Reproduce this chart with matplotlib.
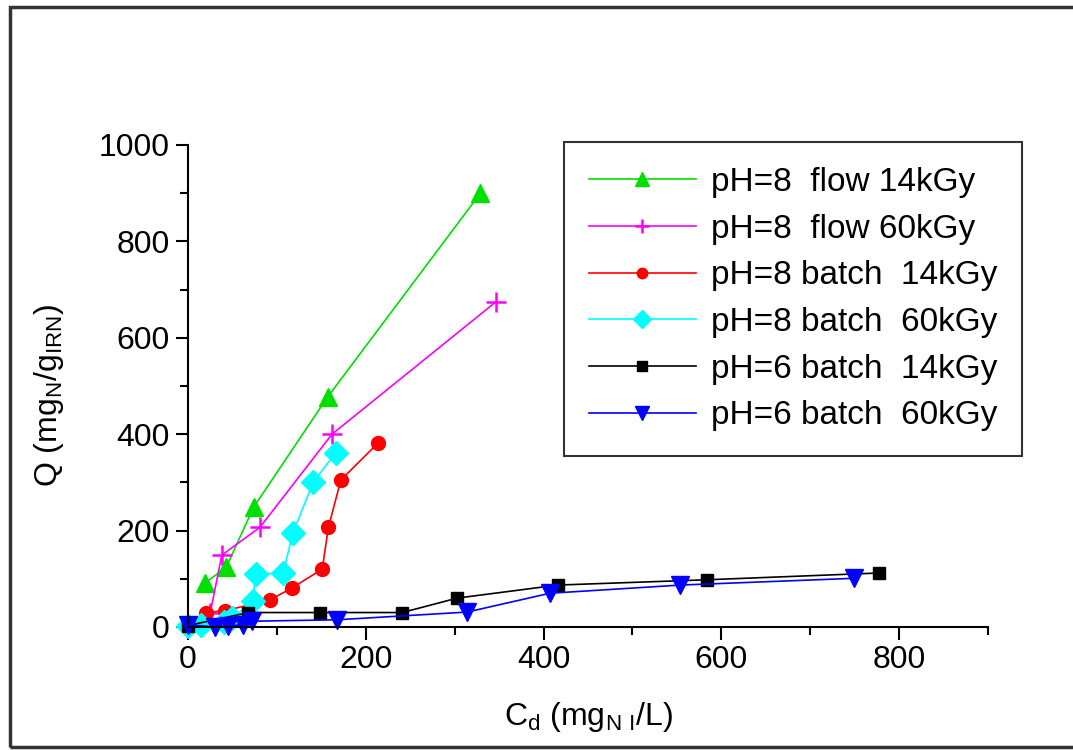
import matplotlib
matplotlib.use('Agg')
import matplotlib.pyplot as plt
from matplotlib.patches import Rectangle

plt.rcParams['font.family'] = ['Liberation Sans', 'DejaVu Sans']
plt.rcParams['mathtext.default'] = 'regular'

# flow, pH=8
flow14_x = [19, 43, 74, 157, 329]
flow14_y = [91, 124, 249, 477, 900]
flow60_x = [25, 38, 81, 162, 346]
flow60_y = [29, 149, 207, 400, 674]

# batch, pH=8
b8_14_x = [2, 20, 42, 92, 117, 151, 158, 172, 214]
b8_14_y = [3, 30, 34, 56, 81, 120, 207, 305, 382]
b8_60_x = [0, 15, 40, 50, 73, 76, 107, 118, 141, 166]
b8_60_y = [3, 5, 10, 18, 54, 110, 112, 195, 301, 361]

# batch, pH=6
b6_14_x = [0, 68, 149, 241, 303, 416, 584, 777]
b6_14_y = [3, 30, 30, 30, 60, 87, 98, 112]
b6_60_x = [0, 30, 45, 62, 72, 168, 314, 407, 554, 749]
b6_60_y = [5, 0, 2, 5, 12, 15, 31, 70, 87, 101]

fig = plt.figure(figsize=(10.73, 7.5), dpi=100)
ax = fig.add_axes([0.1752, 0.164, 0.7456, 0.6427])

ax.plot(flow14_x, flow14_y, color='#00e000', marker='^', ms=13, lw=1.2, label='pH=8  flow 14kGy')
ax.plot(flow60_x, flow60_y, color='#ff00ff', marker='+', ms=14, mew=1.8, lw=1.2, label='pH=8  flow 60kGy')
ax.plot(b8_14_x, b8_14_y, color='#ff0000', marker='o', ms=10, lw=1.2, label='pH=8 batch  14kGy')
ax.plot(b8_60_x, b8_60_y, color='#00ffff', marker='D', ms=12, lw=1.2, label='pH=8 batch  60kGy')
ax.plot(b6_14_x, b6_14_y, color='black', marker='s', ms=9, lw=1.2, label='pH=6 batch  14kGy')
ax.plot(b6_60_x, b6_60_y, color='#0000ff', marker='v', ms=13, lw=1.2, label='pH=6 batch  60kGy')

ax.set_xlim(0, 900)
ax.set_ylim(0, 1000)
ax.set_xticks([0, 200, 400, 600, 800])
ax.set_xticks([100, 300, 500, 700, 900], minor=True)
ax.set_yticks([0, 200, 400, 600, 800, 1000])
ax.set_yticks([100, 300, 500, 700, 900], minor=True)
ax.spines['top'].set_visible(False)
ax.spines['right'].set_visible(False)
ax.spines['left'].set_linewidth(1.5)
ax.spines['bottom'].set_linewidth(1.5)
ax.tick_params(which='major', direction='out', length=9, width=1.5, labelsize=23, pad=4)
ax.tick_params(which='minor', direction='out', length=6, width=1.5)
for ln in ax.lines:
    ln.set_clip_on(False)

ax.set_xlabel('C$_d$ (mg$_{N\\ I}$/L)', fontsize=23, labelpad=18)
ax.set_ylabel('Q (mg$_N$/g$_{IRN}$)', fontsize=23)
ax.yaxis.set_label_coords(-0.152, 0.48)

leg = ax.legend(loc='upper right', bbox_to_anchor=(1.0425, 1.006), borderaxespad=0,
                fontsize=24, frameon=True, fancybox=False, edgecolor='black',
                handlelength=3.2, markerscale=0.75, labelspacing=0.47,
                borderpad=0.75, handletextpad=0.45)
leg.get_frame().set_linewidth(1.5)

fig.patches.append(Rectangle((0.009, 0.004), 1.2, 0.987, transform=fig.transFigure,
                             fill=False, edgecolor='#333333', lw=2.5))

fig.savefig('out.png', dpi=100)
